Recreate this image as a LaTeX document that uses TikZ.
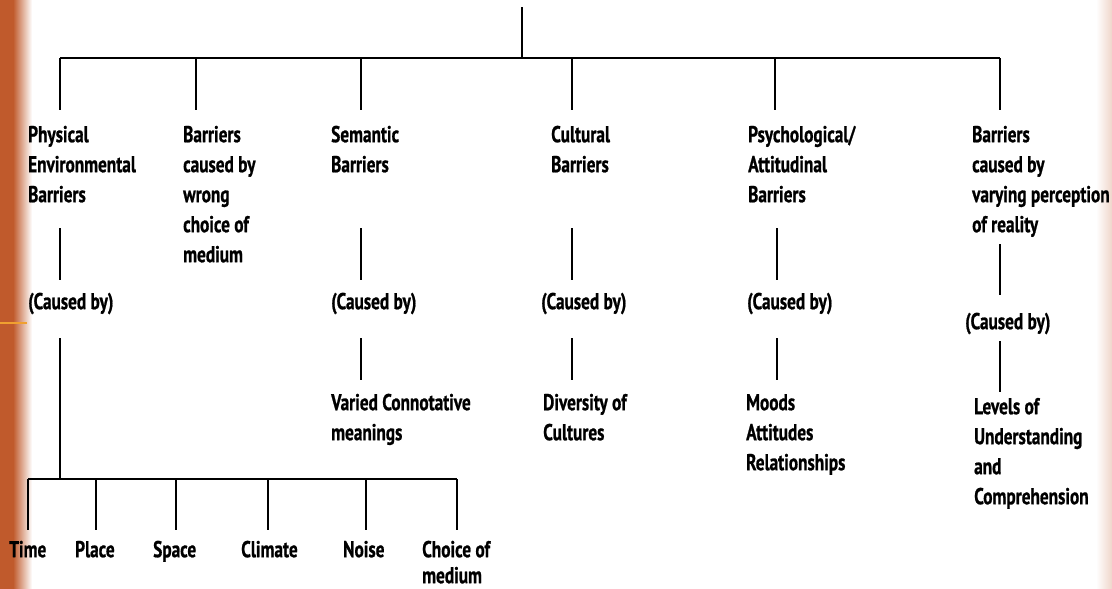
\documentclass[tikz,border=0pt]{standalone}
\usepackage{fontspec}
\setmainfont{PT Sans}[FakeStretch=0.75,BoldFeatures={FakeBold=0.8}]
\newcommand{\fl}{\rule{0pt}{20pt}}
\definecolor{stripcol}{HTML}{C05A2C}
\definecolor{stripline}{HTML}{F0A030}
\begin{document}
\begin{tikzpicture}[x=1pt,y=-1pt,
  lbl/.style={anchor=north west,inner sep=0pt,align=left,
    font=\fontsize{23}{30}\selectfont\bfseries},
  conn/.style={line width=2pt,black},
  bar/.style={line width=2.6pt,black}]
\useasboundingbox (0,0) rectangle (1112,589);
% page decoration
\fill[stripcol] (0,0) rectangle (13,589);
\shade[left color=stripcol,right color=white] (13,0) rectangle (32,589);
\draw[stripline,line width=2pt] (0,323) -- (27,323);
\shade[left color=white,right color=stripcol!25] (1096,0) rectangle (1112,589);
% texts (baseline = y+20)
\node[lbl] (phys) at (28,122) {\fl Physical\\Environmental\\Barriers};
\node[lbl] (wrong) at (183,122) {\fl Barriers\\caused by\\wrong\\choice of\\medium};
\node[lbl] (sem) at (331,122) {\fl Semantic\\Barriers};
\node[lbl] (cult) at (551,122) {\fl Cultural\\Barriers};
\node[lbl] (psy) at (748,122) {\fl Psychological/\\Attitudinal\\Barriers};
\node[lbl] (perc) at (972,122) {\fl Barriers\\caused by\\varying perception\\of reality};
\node[lbl] (cb1) at (28,289) {\fl (Caused by)};
\node[lbl] (cb3) at (331,289) {\fl (Caused by)};
\node[lbl] (cb4) at (541,289) {\fl (Caused by)};
\node[lbl] (cb5) at (747,289) {\fl (Caused by)};
\node[lbl] (cb6) at (965,309) {\fl (Caused by)};
\node[lbl] (vcm) at (331,390) {\fl Varied Connotative\\meanings};
\node[lbl] (div) at (543,390) {\fl Diversity of\\Cultures};
\node[lbl] (moods) at (746,390) {\fl Moods\\Attitudes\\Relationships};
\node[lbl] (lev) at (974,394) {\fl Levels of\\Understanding\\and\\Comprehension};
\node[lbl] (time) at (9,537) {\fl Time};
\node[lbl] (place) at (75,537) {\fl Place};
\node[lbl] (space) at (153,537) {\fl Space};
\node[lbl] (clim) at (241,537) {\fl Climate};
\node[lbl] (noise) at (343,537) {\fl Noise};
\node[lbl] (choice) at (422,537) {\fl Choice of\\[-4pt]medium};
% junction coordinates
\coordinate (top) at (522,7);
\coordinate (hub) at (522,58);
\coordinate (hl) at (60,58);
\coordinate (hr) at (1000,58);
\foreach \n/\x in {1/60,2/196,3/361,4/572,5/775,6/1000}{
  \coordinate (t\n) at (\x,58);
  \coordinate (b\n) at (\x,110);
}
\foreach \n/\x in {1/60,3/361,4/572,5/777}{
  \coordinate (u\n) at (\x,228);
  \coordinate (v\n) at (\x,280);
  \coordinate (w\n) at (\x,338);
  \coordinate (z\n) at (\x,380);
}
\coordinate (u6) at (1000,244);
\coordinate (v6) at (1000,295);
\coordinate (w6) at (1000,341);
\coordinate (z6) at (1000,392);
\coordinate (lhub) at (60,479);
\coordinate (ll) at (28,479);
\coordinate (lr) at (457,479);
\foreach \n/\x in {1/28,2/96,3/176,4/268,5/366,6/457}{
  \coordinate (s\n) at (\x,479);
  \coordinate (e\n) at (\x,530);
}
% connectors
\draw[conn] (top) -- (hub);
\draw[bar,line cap=butt] (hl) -- (hr);
\foreach \n in {1,...,6}{\draw[conn] (t\n) -- (b\n);}
\foreach \n in {1,3,4,5,6}{\draw[conn] (u\n) -- (v\n);}
\foreach \n in {3,4,5,6}{\draw[conn] (w\n) -- (z\n);}
\draw[conn] (w1) -- (lhub);
\draw[bar] (ll) -- (lr);
\foreach \n in {1,...,6}{\draw[conn] (s\n) -- (e\n);}
\end{tikzpicture}
\end{document}
